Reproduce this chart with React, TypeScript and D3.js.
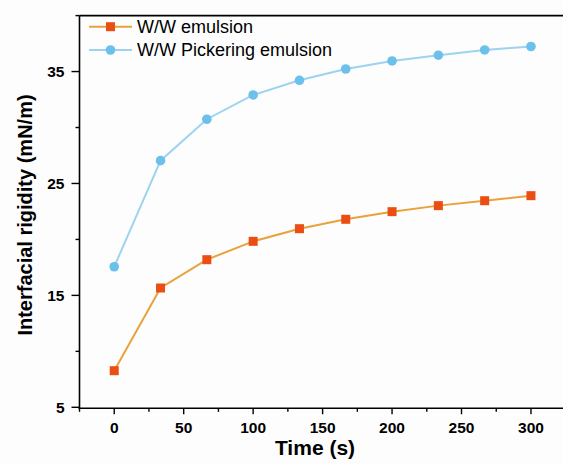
import React from "react";
import * as d3 from "d3";

const times = [0, 100 / 3, 200 / 3, 100, 400 / 3, 500 / 3, 200, 700 / 3, 800 / 3, 300];
const wwEmulsion = [8.27, 15.66, 18.19, 19.83, 20.96, 21.8, 22.48, 23.02, 23.46, 23.91];
const wwPickering = [17.56, 27.04, 30.74, 32.91, 34.22, 35.23, 35.95, 36.46, 36.93, 37.24];
const xTicks = [0, 50, 100, 150, 200, 250, 300];
const xMinor = [-25, 25, 75, 125, 175, 225, 275, 325];
const yTicks = [5, 15, 25, 35];
const yMinor = [10, 20, 30, 40];
const seriesNames = ["W/W emulsion", "W/W Pickering emulsion"];

const W = 563, H = 464;
const left = 79.5, right = 565.7, top = 15.6, bottom = 407.3;

export default function App() {
  const x = d3.scaleLinear().domain([-25, 325]).range([left, right]);
  const y = d3.scaleLinear().domain([5, 40]).range([bottom, top]);
  const line = d3.line<[number, number]>().x(d => x(d[0])).y(d => y(d[1]));
  const orangePts: [number, number][] = times.map((t, i) => [t, wwEmulsion[i]]);
  const bluePts: [number, number][] = times.map((t, i) => [t, wwPickering[i]]);
  const oLine = "#E9A23B", oMark = "#EA4E12", bLine = "#9DD3F1", bMark = "#6CC0EA";
  const font = "Liberation Sans, Arial, sans-serif";
  return (
    <svg width={W} height={H} style={{ position: "absolute", left: 0, top: 0 }} fontFamily={font}>
      <rect x={0} y={0} width={W} height={H} fill="#FDFDFD" />
      {/* lines */}
      <path d={line(orangePts) || ""} fill="none" stroke={oLine} strokeWidth={2} />
      <path d={line(bluePts) || ""} fill="none" stroke={bLine} strokeWidth={2} />
      {orangePts.map((p, i) => (
        <rect key={"o" + i} x={x(p[0]) - 4.5} y={y(p[1]) - 4.5} width={9} height={9} fill={oMark} />
      ))}
      {bluePts.map((p, i) => (
        <circle key={"b" + i} cx={x(p[0])} cy={y(p[1])} r={4.8} fill={bMark} />
      ))}
      {/* axes */}
      <line x1={left} x2={W} y1={top} y2={top} stroke="#000" strokeWidth={1.6} />
      <line x1={left} x2={left} y1={top} y2={bottom + 1} stroke="#000" strokeWidth={1.6} />
      <line x1={left - 1} x2={W} y1={bottom + 1} y2={bottom + 1} stroke="#000" strokeWidth={1.6} />
      {xTicks.map(t => (
        <g key={"xt" + t}>
          <line x1={x(t)} x2={x(t)} y1={bottom + 1} y2={bottom + 7} stroke="#000" strokeWidth={1.4} />
          <text x={x(t)} y={433} textAnchor="middle" fontSize={15.5} fontWeight="bold">{t}</text>
        </g>
      ))}
      {xMinor.map(t => (
        <line key={"xm" + t} x1={x(t)} x2={x(t)} y1={bottom + 1} y2={bottom + 4.5} stroke="#000" strokeWidth={1.4} />
      ))}
      {yTicks.map(t => (
        <g key={"yt" + t}>
          <line x1={left - 8} x2={left} y1={y(t)} y2={y(t)} stroke="#000" strokeWidth={1.4} />
          <text x={left - 15} y={y(t)} dy="0.35em" textAnchor="end" fontSize={15.5} fontWeight="bold">{t}</text>
        </g>
      ))}
      {yMinor.map(t => (
        <line key={"ym" + t} x1={left - 4} x2={left} y1={y(t)} y2={y(t)} stroke="#000" strokeWidth={1.4} />
      ))}
      {/* axis titles */}
      <text x={315} y={455} textAnchor="middle" fontSize={21} fontWeight="bold">Time (s)</text>
      <text transform={`translate(32,215) rotate(-90)`} textAnchor="middle" fontSize={20} fontWeight="bold">
        Interfacial rigidity (mN/m)
      </text>
      {/* legend */}
      <g>
        <line x1={89} x2={132} y1={26.7} y2={26.7} stroke={oLine} strokeWidth={2} />
        <rect x={110.5 - 4.5} y={26.7 - 4.5} width={9} height={9} fill={oMark} />
        <text x={137} y={33} fontSize={18}>{seriesNames[0]}</text>
        <line x1={89} x2={132} y1={50} y2={50} stroke={bLine} strokeWidth={2} />
        <circle cx={110.5} cy={50} r={4.8} fill={bMark} />
        <text x={137} y={56.3} fontSize={18}>{seriesNames[1]}</text>
      </g>
    </svg>
  );
}
